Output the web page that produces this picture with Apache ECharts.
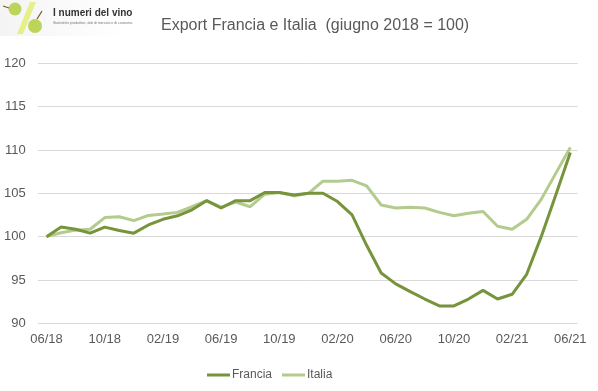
<!DOCTYPE html>
<html>
<head>
<meta charset="utf-8">
<script src="https://cdn.jsdelivr.net/npm/echarts@6/dist/echarts.min.js"></script>
<style>html,body{margin:0;padding:0;background:#fff}#c{width:598px;height:391px}</style>
</head>
<body>
<div id="c"></div>
<script>
const months = ["06/18","07/18","08/18","09/18","10/18","11/18","12/18","01/19","02/19","03/19","04/19","05/19",
"06/19","07/19","08/19","09/19","10/19","11/19","12/19","01/20","02/20","03/20","04/20","05/20",
"06/20","07/20","08/20","09/20","10/20","11/20","12/20","01/21","02/21","03/21","04/21","05/21","06/21"];
const francia = [100,101.1,100.85,100.4,101.1,100.7,100.4,101.35,102.0,102.4,103.1,104.15,
103.3,104.15,104.15,105.1,105.1,104.8,105.0,105.0,104.05,102.5,99.0,95.8,
94.55,93.65,92.8,92.0,92.0,92.8,93.8,92.8,93.35,95.65,100.0,104.8,109.7];
const italia = [100,100.45,100.75,100.85,102.2,102.3,101.85,102.45,102.6,102.8,103.45,104.15,
103.4,104.0,103.45,104.9,105.1,104.7,105.0,106.4,106.4,106.5,105.85,103.65,
103.3,103.4,103.3,102.8,102.4,102.7,102.9,101.2,100.85,102.0,104.3,107.3,110.3];
const xTickIdx = [0,4,8,12,16,20,24,28,32,36];
const yTicks = [90,95,100,105,110,115,120];

const FONT = "'Liberation Sans Narrow','Liberation Sans',Arial,sans-serif";
const chart = echarts.init(document.getElementById('c'));
chart.setOption({
  animation:false,
  backgroundColor:'#fff',
  title:{text:'Export Francia e Italia  (giugno 2018 = 100)',left:156,top:13,
    textStyle:{fontFamily:FONT,fontSize:16,fontWeight:'normal',color:'#595959'}},
  graphic:[
    {type:'rect',shape:{x:0,y:0,width:124,height:36},style:{fill:new echarts.graphic.LinearGradient(0,0,1,0,[{offset:0,color:'#f4f4f4'},{offset:1,color:'#ffffff'}])}},
    {type:'polygon',shape:{points:[[30,2],[36,2],[23,34],[17,34]]},style:{fill:'#e6ef8a'}},
    {type:'circle',shape:{cx:15,cy:9,r:6.5},style:{fill:'#bcd45a'}},
    {type:'line',shape:{x1:3,y1:6,x2:9,y2:8},style:{stroke:'#7a5a2a',lineWidth:1.2}},
    {type:'circle',shape:{cx:35,cy:26,r:7},style:{fill:'#bcd45a'}},
    {type:'line',shape:{x1:37,y1:19,x2:42,y2:11},style:{stroke:'#7a5a2a',lineWidth:1.2}},
    {type:'text',left:53,top:8,style:{text:'I numeri del vino',font:"bold 10px 'Liberation Sans',sans-serif",fill:'#333'}},
    {type:'text',left:53,top:21,style:{text:'Statistiche produttive, dati di mercato e di consumo.',font:"3.5px 'Liberation Sans',sans-serif",fill:'#777'}}
  ],
  legend:{top:364,left:202,itemWidth:23,itemHeight:3,itemGap:10,icon:'rect',
    textStyle:{fontFamily:FONT,fontSize:12,color:'#595959',padding:[0,0,0,-3]},
    data:['Francia','Italia']},
  grid:{left:37.8,right:20.4,top:63.3,bottom:67.7},
  xAxis:{type:'value',min:-0.6,max:36.5,
    axisLine:{show:false},axisTick:{show:false},splitLine:{show:false},
    axisLabel:{customValues:xTickIdx,formatter:v=>months[Math.round(v)],margin:10,
      fontFamily:FONT,fontSize:13,color:'#595959'}},
  yAxis:{type:'value',min:90,max:120,interval:5,
    axisLine:{show:false},axisTick:{show:false},
    splitLine:{lineStyle:{color:'#d9d9d9',width:1}},
    axisLabel:{margin:12,fontFamily:FONT,fontSize:13,color:'#595959'}},
  series:[
    {name:'Francia',type:'line',data:francia.map((v,i)=>[i,v]),showSymbol:false,
      lineStyle:{color:'#77933c',width:3},itemStyle:{color:'#77933c'},z:3},
    {name:'Italia',type:'line',data:italia.map((v,i)=>[i,v]),showSymbol:false,
      lineStyle:{color:'#b3cb8c',width:3},itemStyle:{color:'#b3cb8c'},z:2}
  ]
});
</script>
</body>
</html>
